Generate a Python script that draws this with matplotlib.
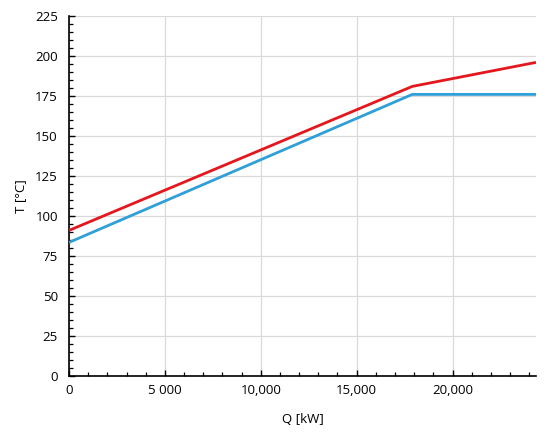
import matplotlib
matplotlib.use("Agg")
import matplotlib.pyplot as plt
from matplotlib.ticker import MultipleLocator

plt.rcParams['font.family'] = ['Open Sans', 'DejaVu Sans']

# Data
q_kw = [0, 17900, 24350]
t_hot = [91.0, 181.0, 196.0]
t_cold = [83.5, 176.0, 176.0]
x_ticks = [0, 5000, 10000, 15000, 20000]
x_tick_labels = ["0", "5 000", "10,000", "15,000", "20,000"]
y_ticks = [0, 25, 50, 75, 100, 125, 150, 175, 200, 225]

fig = plt.figure(figsize=(5.5, 4.36), dpi=100)
ax = fig.add_axes([0.1255, 0.1376, 0.8490, 0.8257])

ax.plot(q_kw, t_cold, color='#2f9fd8', lw=2.0, solid_capstyle='butt', zorder=3)
ax.plot(q_kw, t_hot, color='#e3171d', lw=2.0, solid_capstyle='butt', zorder=3)

ax.set_xlim(0, 24350)
ax.set_ylim(0, 225)
ax.set_xticks(x_ticks)
ax.set_xticklabels(x_tick_labels)
ax.set_yticks(y_ticks)
ax.xaxis.set_minor_locator(MultipleLocator(1000))
ax.yaxis.set_minor_locator(MultipleLocator(5))

ax.grid(True, which='major', color='#d9d9d9', lw=0.9)
ax.set_axisbelow(True)
for s in ['top', 'right']:
    ax.spines[s].set_visible(False)
for s in ['left', 'bottom']:
    ax.spines[s].set_color('black')
    ax.spines[s].set_linewidth(1.2)

ax.tick_params(which='major', direction='in', length=4, width=1, labelsize=9.5, colors='black', pad=6)
ax.tick_params(which='minor', direction='in', length=3, width=0.9)
ax.tick_params(axis='y', pad=8)

ax.set_xlabel('Q [kW]', fontsize=9.5, labelpad=11)
ax.set_ylabel('T [°C]', fontsize=9.5, labelpad=6)

fig.savefig('out.png', dpi=100)
